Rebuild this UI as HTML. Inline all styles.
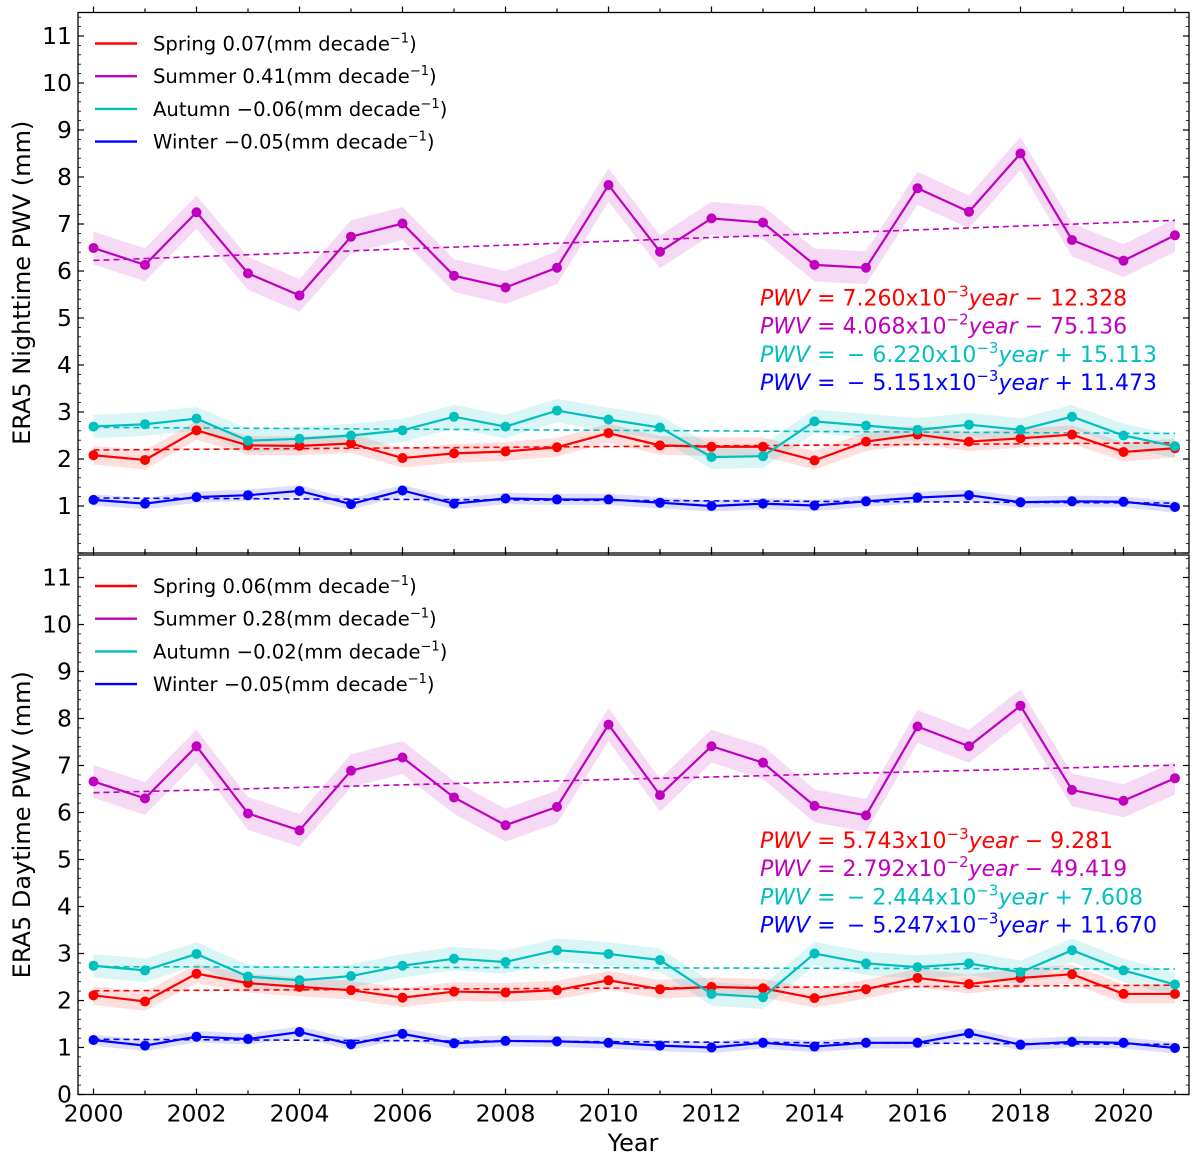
<!DOCTYPE html>
<html><head><meta charset="utf-8"><style>
body{margin:0;background:#fff;}
svg{display:block;font-family:"DejaVu Sans","Liberation Sans",sans-serif;}
</style></head><body>
<svg id="chart" width="1200" height="1162" viewBox="0 0 1200 1162" xmlns="http://www.w3.org/2000/svg"></svg>
<script>
const years = [2000,2001,2002,2003,2004,2005,2006,2007,2008,2009,2010,2011,2012,2013,2014,2015,2016,2017,2018,2019,2020,2021];
// Nighttime (top panel)
const nightSpring = [2.08,1.98,2.61,2.29,2.28,2.33,2.02,2.12,2.16,2.25,2.55,2.29,2.26,2.26,1.97,2.37,2.52,2.37,2.44,2.52,2.15,2.23];
const nightSummer = [6.49,6.13,7.25,5.95,5.48,6.73,7.01,5.90,5.65,6.07,7.83,6.41,7.12,7.03,6.13,6.07,7.76,7.26,8.50,6.66,6.22,6.76];
const nightAutumn = [2.69,2.74,2.86,2.39,2.43,2.50,2.61,2.90,2.69,3.03,2.84,2.67,2.04,2.06,2.80,2.71,2.62,2.73,2.62,2.90,2.50,2.27];
const nightWinter = [1.13,1.05,1.19,1.23,1.32,1.04,1.33,1.05,1.16,1.14,1.14,1.07,1.00,1.05,1.01,1.10,1.18,1.23,1.08,1.10,1.09,0.98];
// Daytime (bottom panel)
const daySpring = [2.11,1.98,2.57,2.37,2.29,2.22,2.06,2.19,2.17,2.22,2.43,2.24,2.29,2.26,2.05,2.24,2.48,2.35,2.48,2.56,2.14,2.14];
const daySummer = [6.66,6.30,7.41,5.98,5.62,6.89,7.17,6.32,5.73,6.12,7.87,6.37,7.41,7.06,6.14,5.94,7.83,7.41,8.27,6.48,6.25,6.73];
const dayAutumn = [2.74,2.64,2.99,2.51,2.43,2.52,2.74,2.89,2.82,3.07,2.99,2.86,2.14,2.07,3.00,2.79,2.71,2.79,2.60,3.07,2.64,2.34];
const dayWinter = [1.16,1.04,1.23,1.18,1.33,1.07,1.29,1.09,1.14,1.13,1.10,1.04,1.00,1.10,1.02,1.10,1.10,1.30,1.06,1.12,1.10,0.99];
// band half-widths
const bandSpring = 0.2, bandSummer = 0.35, bandAutumn = 0.25, bandWinter = 0.12;
// trend coefficients [slope, intercept]
const nightSlopes = [7.260e-3, 4.068e-2, -6.220e-3, -5.151e-3];
const nightIntercepts = [-12.328, -75.136, 15.113, 11.473];
const daySlopes = [5.743e-3, 2.792e-2, -2.444e-3, -5.247e-3];
const dayIntercepts = [-9.281, -49.419, 7.608, 11.670];
const nightLegend = ["Spring 0.07","Summer 0.41","Autumn \u22120.06","Winter \u22120.05"];
const dayLegend = ["Spring 0.06","Summer 0.28","Autumn \u22120.02","Winter \u22120.05"];
const nightEq = [["7.260","\u22123","\u2212 12.328"],["4.068","\u22122","\u2212 75.136"],["\u2009\u2212 6.220","\u22123","+ 15.113"],["\u2009\u2212 5.151","\u22123","+ 11.473"]];
const dayEq = [["5.743","\u22123","\u2212 9.281"],["2.792","\u22122","\u2212 49.419"],["\u2009\u2212 2.444","\u22123","+ 7.608"],["\u2009\u2212 5.247","\u22123","+ 11.670"]];
const yTicks = [0,1,2,3,4,5,6,7,8,9,10,11];
const xTicks = [2000,2002,2004,2006,2008,2010,2012,2014,2016,2018,2020];

const colors = ["#ff0000","#bf00bf","#00bfbf","#0000ff"];
const bandColors = ["rgba(255,0,0,0.13)","rgba(191,0,191,0.15)","rgba(0,191,191,0.15)","rgba(0,0,255,0.13)"];
const NS = "http://www.w3.org/2000/svg";
const svg = document.getElementById('chart');
const L = 78, R = 1189;
function X(yr){ return 93.5 + (yr-2000)*51.5; }
function mk(tag, attrs, parent){ const e=document.createElementNS(NS,tag); for(const k in attrs) e.setAttribute(k,attrs[k]); (parent||svg).appendChild(e); return e; }

function panel(top, bottom, series, bands, slopes, intercepts, legend, eqs, title, prefix, showZero, showXLabels){
  const Y = v => bottom - v*47;
  const g = mk('g',{});
  
  
  series.forEach((s,i)=>{
    let d = s.map((v,k)=>(k?'L':'M')+X(years[k])+','+Y(v+bands[i])).join('');
    for(let k=s.length-1;k>=0;k--) d+='L'+X(years[k])+','+Y(s[k]-bands[i]);
    const p = mk('path',{d:d+'Z',fill:bandColors[i],stroke:'none'},g);
    
    
  });
  series.forEach((s,i)=>{
    const y0 = slopes[i]*years[0]+intercepts[i], y1 = slopes[i]*years[years.length-1]+intercepts[i];
    const t = mk('line',{x1:X(years[0]),y1:Y(y0),x2:X(years[years.length-1]),y2:Y(y1),stroke:colors[i],'stroke-width':1.6,'stroke-dasharray':'6,4'},g);
    
    
  });
  series.forEach((s,i)=>{
    const pl = mk('polyline',{points:s.map((v,k)=>X(years[k])+','+Y(v)).join(' '),fill:'none',stroke:colors[i],'stroke-width':2.2},g);
    
    
    s.forEach((v,k)=>{
      const c = mk('circle',{cx:X(years[k]),cy:Y(v),r:5,fill:colors[i]},g);
      
      
    });
  });
  const f = mk('rect',{x:L,y:top,width:R-L,height:bottom-top,fill:'none',stroke:'#000','stroke-width':1.3},g);
  
  
  yTicks.forEach(t=>{
    const yy = Y(t);
    if(yy < top) return;
    mk('line',{x1:L,y1:yy,x2:L+6,y2:yy,stroke:'#000','stroke-width':1.2},g);
    mk('line',{x1:R,y1:yy,x2:R-6,y2:yy,stroke:'#000','stroke-width':1.2},g);
    if(t===0 && !showZero) return;
    const tx = mk('text',{x:L-6,y:yy+8,'text-anchor':'end','font-size':23.5,fill:'#000'},g);
    tx.textContent = t;
    
    
  });
  for(let v=0.2; v<11.5; v+=0.2){
    if(Math.abs(v-Math.round(v))<0.01) continue;
    const yy=Y(v);
    mk('line',{x1:L,y1:yy,x2:L+3,y2:yy,stroke:'#000','stroke-width':0.8},g);
    mk('line',{x1:R,y1:yy,x2:R-3,y2:yy,stroke:'#000','stroke-width':0.8},g);
  }
  years.forEach(yr=>{
    const major = (yr%2===0), len = major?6:4;
    mk('line',{x1:X(yr),y1:bottom,x2:X(yr),y2:bottom-len,stroke:'#000','stroke-width':1.2},g);
    mk('line',{x1:X(yr),y1:top,x2:X(yr),y2:top-len,stroke:'#000','stroke-width':1.2},g);
  });
  if(showXLabels){
    xTicks.forEach(t=>{
      const tx = mk('text',{x:X(t),y:bottom+27,'text-anchor':'middle','font-size':23.5,fill:'#000'},g);
      tx.textContent=t;
      
      
    });
  }
  const cy=(top+bottom)/2;
  const yt = mk('text',{x:30,y:cy,transform:'rotate(-90 30 '+cy+')','text-anchor':'middle','font-size':24,fill:'#000'},g);
  yt.textContent = title;
  
  
  legend.forEach((lab,i)=>{
    const ly = top + 31 + i*32.7;
    const lg = mk('g',{},g);
    
    
    mk('line',{x1:95,y1:ly,x2:137,y2:ly,stroke:colors[i],'stroke-width':2.4},lg);
    const t = mk('text',{x:153,y:ly+7,'font-size':19.6,fill:'#000'},lg);
    t.innerHTML = lab+'(mm decade<tspan font-size="13" dy="-8">\u22121</tspan><tspan dy="8">)</tspan>';
  });
  eqs.forEach((e,i)=>{
    const ey = top + 293 + i*28.2;
    const t = mk('text',{x:760,y:ey,'font-size':22,fill:colors[i]},g);
    t.innerHTML = '<tspan font-style="italic">PWV</tspan> = '+e[0]+'x10<tspan font-size="15" dy="-9">'+e[1]+'</tspan><tspan dy="9" font-style="italic">year</tspan> '+e[2];
    
    
  });
}
panel(12.5, 553, [nightSpring,nightSummer,nightAutumn,nightWinter], [bandSpring,bandSummer,bandAutumn,bandWinter], nightSlopes, nightIntercepts, nightLegend, nightEq, 'ERA5 Nighttime PWV (mm)', 'night', false, false);
panel(555, 1094.5, [daySpring,daySummer,dayAutumn,dayWinter], [bandSpring,bandSummer,bandAutumn,bandWinter], daySlopes, dayIntercepts, dayLegend, dayEq, 'ERA5 Daytime PWV (mm)', 'day', true, true);
const xt = mk('text',{x:633,y:1151,'text-anchor':'middle','font-size':24,fill:'#000'});
xt.textContent='Year';


</script>
</body></html>
